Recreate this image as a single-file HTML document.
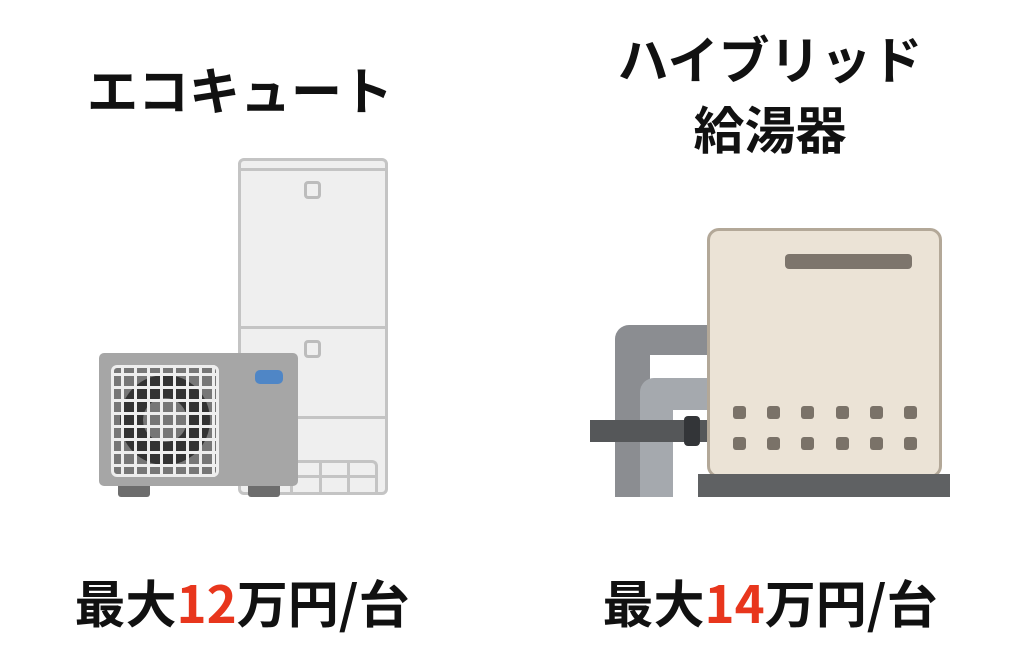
<!DOCTYPE html>
<html><head><meta charset="utf-8"><style>
body{margin:0;width:1024px;height:659px;background:#fff;position:relative;overflow:hidden;font-family:"Noto Sans CJK JP","Liberation Sans",sans-serif}
.a{position:absolute;box-sizing:border-box}
.t{position:absolute;font-weight:bold;font-size:51px;color:#111;text-align:center;white-space:nowrap;line-height:1}
.r{color:#e8361d}
.d{position:absolute;width:13px;height:13px;background:#7a7268;border-radius:3px}
</style></head><body>
<div class="t" style="left:40px;width:400px;top:63px">エコキュート</div>
<div class="t" style="left:570px;width:400px;top:32px">ハイブリッド</div>
<div class="t" style="left:570px;width:400px;top:102px">給湯器</div>
<div class="t" style="left:42px;width:400px;top:576px;font-size:51px">最大<span class="r">12</span>万円/台</div>
<div class="t" style="left:570px;width:400px;top:576px;font-size:51px">最大<span class="r">14</span>万円/台</div>

<!-- tank -->
<div class="a" style="left:238px;top:158px;width:150px;height:337px;background:#efefef;border:3px solid #c4c4c4;border-radius:6px"></div>
<div class="a" style="left:240px;top:168px;width:146px;height:3px;background:#c4c4c4"></div>
<div class="a" style="left:240px;top:326px;width:146px;height:3px;background:#c4c4c4"></div>
<div class="a" style="left:240px;top:416px;width:146px;height:3px;background:#c4c4c4"></div>
<div class="a" style="left:304px;top:181px;width:17px;height:18px;border:3px solid #bcbcbc;border-radius:4px"></div>
<div class="a" style="left:304px;top:340px;width:17px;height:18px;border:3px solid #bcbcbc;border-radius:4px"></div>
<div class="a" style="left:290px;top:460px;width:88px;height:32px;border:3px solid #c4c4c4;border-bottom:none;border-radius:6px 6px 0 0;background:linear-gradient(90deg,transparent 26px,#c4c4c4 26px,#c4c4c4 29px,transparent 29px,transparent 54px,#c4c4c4 54px,#c4c4c4 57px,transparent 57px),linear-gradient(transparent 12px,#c4c4c4 12px,#c4c4c4 15px,transparent 15px)"></div>
<!-- outdoor unit -->
<div class="a" style="left:118px;top:480px;width:32px;height:17px;background:#6d6d6d;border-radius:3px"></div>
<div class="a" style="left:248px;top:480px;width:32px;height:17px;background:#6d6d6d;border-radius:3px"></div>
<div class="a" style="left:99px;top:353px;width:199px;height:133px;background:#a6a6a6;border-radius:5px"></div>
<div class="a" style="left:111px;top:365px;width:108px;height:112px;background:#777;border:3px solid #eee;border-radius:6px"></div>
<div class="a" style="left:120px;top:375px;width:90px;height:90px;border-radius:50%;background:#333"></div>
<div class="a" style="left:143px;top:398px;width:44px;height:44px;border-radius:50%;background:#777"></div>
<div class="a" style="left:111px;top:365px;width:108px;height:112px;border-radius:6px;background:repeating-linear-gradient(90deg,transparent 0,transparent 10px,#eee 10px,#eee 13px),repeating-linear-gradient(0deg,transparent 0,transparent 10px,#eee 10px,#eee 13px)"></div>
<div class="a" style="left:255px;top:370px;width:28px;height:14px;background:#4f86c6;border-radius:5px"></div>

<!-- hybrid pipes -->
<div class="a" style="left:615px;top:325px;width:100px;height:172px;background:#8b8d91;border-radius:14px 0 0 0"></div>
<div class="a" style="left:650px;top:355px;width:60px;height:142px;background:#fff"></div>
<div class="a" style="left:640px;top:378px;width:70px;height:119px;background:#a5a9ae;border-radius:14px 0 0 0"></div>
<div class="a" style="left:673px;top:410px;width:37px;height:87px;background:#fff"></div>
<div class="a" style="left:590px;top:420px;width:117px;height:22px;background:#555759"></div>
<div class="a" style="left:684px;top:416px;width:16px;height:30px;background:#333538;border-radius:4px"></div>
<!-- box -->
<div class="a" style="left:707px;top:228px;width:235px;height:250px;background:#ebe3d6;border:3px solid #b3a898;border-radius:12px"></div>
<div class="a" style="left:785px;top:254px;width:127px;height:15px;background:#7d756c;border-radius:4px"></div>
<div class="d" style="left:733px;top:406px"></div><div class="d" style="left:767px;top:406px"></div><div class="d" style="left:801px;top:406px"></div><div class="d" style="left:836px;top:406px"></div><div class="d" style="left:870px;top:406px"></div><div class="d" style="left:904px;top:406px"></div>
<div class="d" style="left:733px;top:437px"></div><div class="d" style="left:767px;top:437px"></div><div class="d" style="left:801px;top:437px"></div><div class="d" style="left:836px;top:437px"></div><div class="d" style="left:870px;top:437px"></div><div class="d" style="left:904px;top:437px"></div>
<div class="a" style="left:698px;top:474px;width:252px;height:23px;background:#5f6163"></div>
</body></html>
